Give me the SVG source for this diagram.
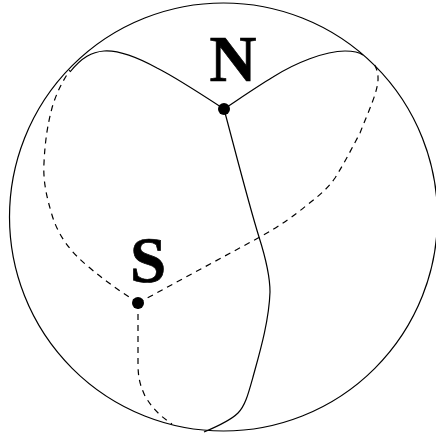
<svg xmlns="http://www.w3.org/2000/svg" width="436" height="436" viewBox="0 0 436 436">
<style>
.l{fill:none;stroke:#000;stroke-width:1.2}
.d{stroke-dasharray:6 5}
.p{fill:#000}
text{font-family:"Liberation Serif",serif;font-weight:bold;font-size:65px;fill:#000;stroke:#000;stroke-width:0.7;text-anchor:middle}
</style>
<rect width="436" height="436" fill="#fff"/>
<g id="sphere"><circle class="l" cx="223.5" cy="217" r="214"/></g>
<g id="connectors">
<path class="l" d="M224 109C195 90 175 77 157 68C135 56 118 50 104 51C92 52 82 57 70 72"/>
<path class="l" d="M224 109C245 95 258 86 273 77C295 63 325 51 345 51C353 51 359 52 363 55"/>
<path class="l" d="M224 109C235 150 249 205 259 237C266 259 270 275 270 292C269 322 259 355 253 377C248 395 245 406 238 413C230 421 216 427 204 432"/>
<path class="l d" d="M138 303L260 237C280 226 295 215 307 205C320 195 328 188 335 178C345 162 352 148 360 133C368 112 379 90 378 77C378 72 376 67 373 62"/>
<path class="l d" d="M138 303C120 291 105 281 90 268C70 252 58 235 52 215C46 195 43 180 44 163C45 140 48 123 52 108C56 94 62 82 70 70"/>
<path class="l d" d="M138 303L138 363C138 378 140 385 145 396C152 408 160 416 172 424"/>
</g>
<g id="N"><circle class="p" cx="224" cy="109" r="6"/><text x="233" y="81">N</text></g>
<g id="S"><circle class="p" cx="138" cy="303" r="6"/><text x="148" y="282">S</text></g>
</svg>
